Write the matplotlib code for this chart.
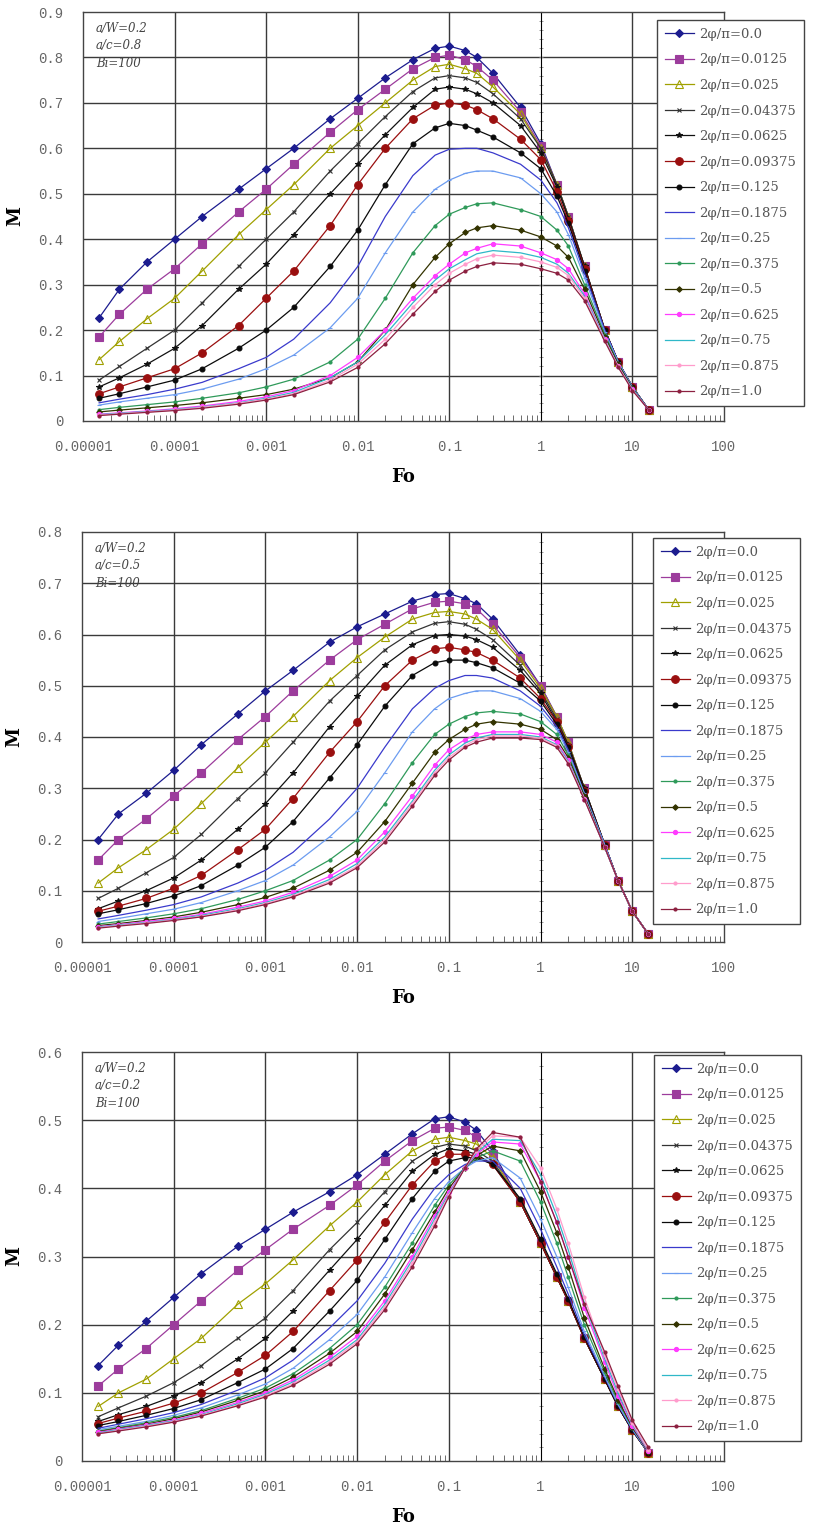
import numpy as np
import matplotlib.pyplot as plt
from matplotlib.ticker import LogLocator, NullFormatter, FixedLocator

# Fourier number sample points (shared by all three panels)
fo = [1.5e-5, 2.5e-5, 5e-5, 1e-4, 2e-4, 5e-4, 1e-3, 2e-3, 5e-3, 0.01, 0.02, 0.04,
      0.07, 0.1, 0.15, 0.2, 0.3, 0.6, 1, 1.5, 2, 3, 5, 7, 10, 15]

phi = ['0.0', '0.0125', '0.025', '0.04375', '0.0625', '0.09375', '0.125', '0.1875',
       '0.25', '0.375', '0.5', '0.625', '0.75', '0.875', '1.0']

# panel 1 : a/W=0.2, a/c=0.8, Bi=100
p1_00 = [0.227, 0.29, 0.35, 0.40, 0.45, 0.51, 0.555, 0.60, 0.665, 0.71, 0.755, 0.795, 0.82, 0.825, 0.815, 0.80, 0.765, 0.69, 0.61, 0.52, 0.45, 0.34, 0.20, 0.13, 0.075, 0.025]
p1_01 = [0.185, 0.235, 0.29, 0.335, 0.39, 0.46, 0.51, 0.565, 0.635, 0.685, 0.73, 0.775, 0.80, 0.805, 0.795, 0.78, 0.75, 0.68, 0.605, 0.52, 0.45, 0.34, 0.20, 0.13, 0.075, 0.025]
p1_02 = [0.135, 0.175, 0.225, 0.27, 0.33, 0.41, 0.465, 0.52, 0.60, 0.65, 0.70, 0.75, 0.78, 0.785, 0.775, 0.765, 0.735, 0.675, 0.60, 0.52, 0.45, 0.34, 0.20, 0.13, 0.075, 0.025]
p1_03 = [0.09, 0.12, 0.16, 0.20, 0.26, 0.34, 0.40, 0.46, 0.55, 0.61, 0.67, 0.725, 0.755, 0.76, 0.755, 0.745, 0.72, 0.665, 0.60, 0.52, 0.45, 0.34, 0.20, 0.13, 0.075, 0.025]
p1_04 = [0.075, 0.095, 0.125, 0.16, 0.21, 0.29, 0.345, 0.41, 0.50, 0.565, 0.63, 0.69, 0.73, 0.735, 0.73, 0.72, 0.70, 0.65, 0.59, 0.515, 0.445, 0.34, 0.20, 0.13, 0.075, 0.025]
p1_05 = [0.06, 0.075, 0.095, 0.115, 0.15, 0.21, 0.27, 0.33, 0.43, 0.52, 0.60, 0.665, 0.695, 0.70, 0.695, 0.685, 0.665, 0.62, 0.575, 0.505, 0.44, 0.335, 0.20, 0.13, 0.075, 0.025]
p1_06 = [0.05, 0.06, 0.075, 0.09, 0.115, 0.16, 0.20, 0.25, 0.34, 0.42, 0.52, 0.61, 0.645, 0.655, 0.65, 0.64, 0.625, 0.59, 0.555, 0.495, 0.435, 0.33, 0.20, 0.13, 0.075, 0.025]
p1_07 = [0.04, 0.048, 0.058, 0.07, 0.085, 0.115, 0.14, 0.18, 0.26, 0.34, 0.45, 0.54, 0.585, 0.598, 0.60, 0.60, 0.59, 0.565, 0.53, 0.48, 0.425, 0.325, 0.20, 0.13, 0.075, 0.025]
p1_08 = [0.035, 0.042, 0.05, 0.058, 0.07, 0.092, 0.115, 0.145, 0.205, 0.27, 0.37, 0.46, 0.51, 0.53, 0.545, 0.55, 0.55, 0.535, 0.50, 0.46, 0.41, 0.315, 0.195, 0.13, 0.075, 0.025]
p1_09 = [0.025, 0.03, 0.036, 0.042, 0.05, 0.062, 0.075, 0.092, 0.13, 0.18, 0.27, 0.37, 0.43, 0.455, 0.47, 0.478, 0.48, 0.465, 0.45, 0.42, 0.385, 0.30, 0.19, 0.125, 0.072, 0.025]
p1_10 = [0.02, 0.024, 0.029, 0.034, 0.04, 0.05, 0.058, 0.07, 0.095, 0.13, 0.2, 0.3, 0.36, 0.39, 0.415, 0.425, 0.43, 0.42, 0.405, 0.385, 0.36, 0.29, 0.185, 0.125, 0.072, 0.025]
p1_11 = [0.015, 0.018, 0.022, 0.027, 0.033, 0.043, 0.053, 0.067, 0.1, 0.14, 0.2, 0.27, 0.32, 0.345, 0.37, 0.38, 0.39, 0.385, 0.37, 0.355, 0.335, 0.28, 0.18, 0.12, 0.07, 0.025]
p1_12 = [0.014, 0.017, 0.021, 0.025, 0.031, 0.04, 0.05, 0.063, 0.095, 0.13, 0.19, 0.26, 0.31, 0.335, 0.355, 0.368, 0.375, 0.37, 0.36, 0.345, 0.325, 0.275, 0.18, 0.12, 0.07, 0.025]
p1_13 = [0.013, 0.016, 0.02, 0.024, 0.03, 0.039, 0.048, 0.06, 0.09, 0.125, 0.18, 0.25, 0.30, 0.325, 0.345, 0.357, 0.365, 0.36, 0.35, 0.338, 0.32, 0.27, 0.178, 0.12, 0.068, 0.025]
p1_14 = [0.012, 0.015, 0.019, 0.023, 0.028, 0.037, 0.046, 0.058, 0.086, 0.118, 0.17, 0.235, 0.285, 0.31, 0.33, 0.34, 0.348, 0.345, 0.335, 0.325, 0.31, 0.265, 0.175, 0.118, 0.067, 0.025]

# panel 2 : a/W=0.2, a/c=0.5, Bi=100
p2_00 = [0.20, 0.25, 0.29, 0.335, 0.385, 0.445, 0.49, 0.53, 0.585, 0.615, 0.64, 0.665, 0.678, 0.68, 0.67, 0.66, 0.63, 0.56, 0.50, 0.44, 0.39, 0.30, 0.19, 0.12, 0.06, 0.015]
p2_01 = [0.16, 0.2, 0.24, 0.285, 0.33, 0.395, 0.44, 0.49, 0.55, 0.59, 0.62, 0.65, 0.663, 0.665, 0.66, 0.65, 0.62, 0.555, 0.50, 0.44, 0.39, 0.30, 0.19, 0.12, 0.06, 0.015]
p2_02 = [0.115, 0.145, 0.18, 0.22, 0.27, 0.34, 0.39, 0.44, 0.51, 0.555, 0.595, 0.63, 0.643, 0.645, 0.64, 0.63, 0.61, 0.55, 0.495, 0.44, 0.39, 0.30, 0.19, 0.12, 0.06, 0.015]
p2_03 = [0.085, 0.105, 0.135, 0.165, 0.21, 0.28, 0.33, 0.39, 0.47, 0.52, 0.57, 0.605, 0.622, 0.625, 0.62, 0.61, 0.59, 0.54, 0.49, 0.435, 0.385, 0.30, 0.19, 0.12, 0.06, 0.015]
p2_04 = [0.065, 0.08, 0.1, 0.125, 0.16, 0.22, 0.27, 0.33, 0.42, 0.48, 0.54, 0.58, 0.598, 0.60, 0.597, 0.59, 0.575, 0.53, 0.485, 0.43, 0.385, 0.30, 0.19, 0.12, 0.06, 0.015]
p2_05 = [0.06, 0.07, 0.085, 0.105, 0.13, 0.18, 0.22, 0.28, 0.37, 0.43, 0.50, 0.55, 0.572, 0.575, 0.57, 0.565, 0.55, 0.515, 0.475, 0.43, 0.38, 0.295, 0.19, 0.12, 0.06, 0.015]
p2_06 = [0.055, 0.063, 0.075, 0.09, 0.11, 0.15, 0.185, 0.235, 0.32, 0.385, 0.46, 0.52, 0.545, 0.55, 0.55, 0.545, 0.535, 0.505, 0.47, 0.425, 0.38, 0.295, 0.19, 0.12, 0.06, 0.015]
p2_07 = [0.045, 0.052, 0.062, 0.073, 0.088, 0.115, 0.14, 0.175, 0.24, 0.30, 0.38, 0.455, 0.495, 0.51, 0.52, 0.52, 0.515, 0.49, 0.46, 0.42, 0.375, 0.29, 0.19, 0.12, 0.06, 0.015]
p2_08 = [0.04, 0.046, 0.055, 0.064, 0.077, 0.1, 0.12, 0.15, 0.205, 0.255, 0.33, 0.41, 0.455, 0.475, 0.485, 0.49, 0.49, 0.475, 0.45, 0.415, 0.37, 0.29, 0.19, 0.12, 0.06, 0.015]
p2_09 = [0.035, 0.04, 0.047, 0.055, 0.065, 0.083, 0.1, 0.12, 0.16, 0.2, 0.27, 0.35, 0.405, 0.425, 0.44, 0.447, 0.45, 0.445, 0.43, 0.405, 0.365, 0.285, 0.185, 0.12, 0.06, 0.015]
p2_10 = [0.032, 0.036, 0.042, 0.049, 0.058, 0.073, 0.087, 0.105, 0.14, 0.175, 0.235, 0.31, 0.37, 0.395, 0.415, 0.425, 0.43, 0.425, 0.415, 0.395, 0.36, 0.285, 0.185, 0.12, 0.06, 0.015]
p2_11 = [0.03, 0.034, 0.04, 0.046, 0.054, 0.068, 0.08, 0.097, 0.128, 0.16, 0.215, 0.285, 0.345, 0.375, 0.395, 0.405, 0.41, 0.41, 0.405, 0.39, 0.355, 0.28, 0.185, 0.12, 0.06, 0.015]
p2_12 = [0.029, 0.033, 0.038, 0.044, 0.052, 0.065, 0.077, 0.093, 0.122, 0.153, 0.205, 0.275, 0.335, 0.365, 0.388, 0.398, 0.405, 0.405, 0.40, 0.385, 0.353, 0.28, 0.185, 0.12, 0.06, 0.015]
p2_13 = [0.028, 0.032, 0.037, 0.043, 0.05, 0.063, 0.075, 0.09, 0.118, 0.148, 0.2, 0.27, 0.33, 0.36, 0.383, 0.395, 0.402, 0.402, 0.398, 0.383, 0.35, 0.28, 0.185, 0.12, 0.06, 0.015]
p2_14 = [0.027, 0.031, 0.036, 0.042, 0.049, 0.061, 0.073, 0.088, 0.115, 0.145, 0.195, 0.265, 0.325, 0.355, 0.38, 0.39, 0.398, 0.398, 0.395, 0.38, 0.348, 0.278, 0.185, 0.12, 0.06, 0.015]

# panel 3 : a/W=0.2, a/c=0.2, Bi=100
p3_00 = [0.14, 0.17, 0.205, 0.24, 0.275, 0.315, 0.34, 0.365, 0.395, 0.42, 0.45, 0.48, 0.502, 0.505, 0.497, 0.485, 0.455, 0.38, 0.32, 0.27, 0.235, 0.18, 0.12, 0.08, 0.045, 0.012]
p3_01 = [0.11, 0.135, 0.165, 0.2, 0.235, 0.28, 0.31, 0.34, 0.375, 0.405, 0.44, 0.47, 0.488, 0.49, 0.485, 0.475, 0.45, 0.38, 0.32, 0.27, 0.235, 0.18, 0.12, 0.08, 0.045, 0.012]
p3_02 = [0.08, 0.1, 0.12, 0.15, 0.18, 0.23, 0.26, 0.295, 0.345, 0.38, 0.42, 0.455, 0.472, 0.475, 0.47, 0.465, 0.445, 0.38, 0.32, 0.27, 0.235, 0.18, 0.12, 0.08, 0.045, 0.012]
p3_03 = [0.065, 0.078, 0.095, 0.115, 0.14, 0.18, 0.21, 0.25, 0.31, 0.35, 0.395, 0.44, 0.46, 0.465, 0.462, 0.455, 0.44, 0.38, 0.32, 0.27, 0.235, 0.18, 0.12, 0.08, 0.045, 0.012]
p3_04 = [0.058, 0.068, 0.08, 0.095, 0.115, 0.15, 0.18, 0.22, 0.28, 0.325, 0.375, 0.425, 0.45, 0.458, 0.455, 0.45, 0.435, 0.38, 0.32, 0.27, 0.235, 0.18, 0.12, 0.08, 0.045, 0.012]
p3_05 = [0.055, 0.063, 0.073, 0.085, 0.1, 0.13, 0.155, 0.19, 0.25, 0.295, 0.35, 0.405, 0.44, 0.45, 0.45, 0.447, 0.435, 0.38, 0.32, 0.27, 0.235, 0.18, 0.12, 0.08, 0.045, 0.012]
p3_06 = [0.052, 0.058, 0.067, 0.077, 0.09, 0.115, 0.135, 0.165, 0.22, 0.265, 0.325, 0.385, 0.425, 0.44, 0.445, 0.445, 0.435, 0.385, 0.325, 0.275, 0.238, 0.182, 0.12, 0.08, 0.045, 0.012]
p3_07 = [0.048, 0.054, 0.062, 0.071, 0.083, 0.104, 0.122, 0.148, 0.195, 0.235, 0.29, 0.355, 0.40, 0.42, 0.435, 0.44, 0.44, 0.40, 0.34, 0.285, 0.245, 0.185, 0.123, 0.082, 0.046, 0.012]
p3_08 = [0.046, 0.051, 0.058, 0.067, 0.078, 0.097, 0.113, 0.136, 0.178, 0.215, 0.27, 0.335, 0.385, 0.41, 0.43, 0.44, 0.445, 0.415, 0.355, 0.3, 0.255, 0.19, 0.125, 0.083, 0.047, 0.012]
p3_09 = [0.044, 0.049, 0.056, 0.064, 0.074, 0.092, 0.107, 0.128, 0.165, 0.2, 0.255, 0.32, 0.375, 0.405, 0.43, 0.445, 0.455, 0.44, 0.38, 0.32, 0.27, 0.2, 0.13, 0.087, 0.049, 0.013]
p3_10 = [0.043, 0.048, 0.054, 0.062, 0.072, 0.089, 0.103, 0.123, 0.158, 0.19, 0.245, 0.31, 0.365, 0.4, 0.43, 0.448, 0.462, 0.455, 0.395, 0.335, 0.285, 0.21, 0.135, 0.09, 0.05, 0.013]
p3_11 = [0.042, 0.047, 0.053, 0.06, 0.07, 0.086, 0.1, 0.119, 0.152, 0.183, 0.235, 0.3, 0.36, 0.395, 0.43, 0.45, 0.468, 0.465, 0.41, 0.35, 0.3, 0.225, 0.145, 0.095, 0.052, 0.014]
p3_12 = [0.041, 0.046, 0.052, 0.059, 0.068, 0.084, 0.098, 0.116, 0.148, 0.178, 0.23, 0.295, 0.355, 0.392, 0.43, 0.452, 0.472, 0.47, 0.42, 0.36, 0.31, 0.232, 0.15, 0.1, 0.054, 0.015]
p3_13 = [0.04, 0.045, 0.051, 0.058, 0.067, 0.082, 0.096, 0.113, 0.145, 0.175, 0.226, 0.29, 0.35, 0.39, 0.43, 0.455, 0.477, 0.475, 0.43, 0.37, 0.32, 0.24, 0.155, 0.105, 0.056, 0.016]
p3_14 = [0.04, 0.044, 0.05, 0.057, 0.066, 0.081, 0.094, 0.111, 0.142, 0.172, 0.222, 0.285, 0.345, 0.388, 0.43, 0.458, 0.482, 0.475, 0.41, 0.35, 0.3, 0.23, 0.16, 0.11, 0.06, 0.02]

panels = [
    ([p1_00, p1_01, p1_02, p1_03, p1_04, p1_05, p1_06, p1_07, p1_08, p1_09, p1_10, p1_11, p1_12, p1_13, p1_14],
     0.9, ['a/W=0.2', 'a/c=0.8', 'Bi=100']),
    ([p2_00, p2_01, p2_02, p2_03, p2_04, p2_05, p2_06, p2_07, p2_08, p2_09, p2_10, p2_11, p2_12, p2_13, p2_14],
     0.8, ['a/W=0.2', 'a/c=0.5', 'Bi=100']),
    ([p3_00, p3_01, p3_02, p3_03, p3_04, p3_05, p3_06, p3_07, p3_08, p3_09, p3_10, p3_11, p3_12, p3_13, p3_14],
     0.6, ['a/W=0.2', 'a/c=0.2', 'Bi=100']),
]

# (color, marker, markersize, marker face)
styles = [
    ('#1c1c8f', 'D', 4.5, None),
    ('#9c3c9c', 's', 5.5, None),
    ('#a0a000', '^', 5.5, 'none'),
    ('#333333', 'x', 3.0, None),
    ('#111111', '*', 4.0, None),
    ('#9a0f0f', 'o', 5.5, None),
    ('#0a0a0a', 'o', 3.5, None),
    ('#3a3acc', '', 0, None),
    ('#6c9cf0', '_', 3.0, None),
    ('#2f9a5a', 'o', 2.2, None),
    ('#333300', 'D', 2.8, None),
    ('#ff3cff', 'o', 3.0, None),
    ('#2fb8c8', '', 0, None),
    ('#ff9ccc', 'o', 2.2, None),
    ('#8c2040', 'o', 2.2, None),
]

plt.rcParams['font.family'] = 'DejaVu Serif'
fig = plt.figure(figsize=(8.17, 15.31), dpi=100)

ax_boxes = [(83, 12, 724, 421), (82, 532, 724, 942), (82, 1052, 724, 1461)]
leg_boxes = [(657, 20, 813, 407), (653, 538, 813, 932), (654, 1055, 813, 1448)]
W, H = 817.0, 1531.0

for (series, ymax, notes), (x0, y0, x1, y1), lb in zip(panels, ax_boxes, leg_boxes):
    ax = fig.add_axes([x0 / W, 1 - y1 / H, (x1 - x0) / W, (y1 - y0) / H])
    ax.set_xscale('log')
    ax.set_xlim(1e-5, 100)
    ax.set_ylim(0, ymax)

    # grid: decades and 0.1 steps
    for d in [1e-4, 1e-3, 1e-2, 1e-1, 10]:
        ax.axvline(d, color='#3a3a3a', lw=1.0, zorder=0)
    for yv in np.arange(0.1, ymax - 0.001, 0.1):
        ax.axhline(yv, color='#3a3a3a', lw=1.0, zorder=0)

    for (col, mk, ms, mf), m, p in zip(styles, series, phi):
        ax.plot(fo, m, color=col, marker=mk, ms=ms, lw=0.9,
                mfc=(col if mf is None else mf), mec=col, mew=0.8,
                label='2\u03c6/\u03c0=' + p)

    ax.set_xticks([1e-5, 1e-4, 1e-3, 1e-2, 0.1, 1, 10, 100])
    ax.set_xticklabels(['0.00001', '0.0001', '0.001', '0.01', '0.1', '1', '10', '100'])
    ax.xaxis.set_minor_locator(LogLocator(base=10, subs=np.arange(2, 10)))
    ax.xaxis.set_minor_formatter(NullFormatter())
    ax.tick_params(axis='x', which='both', direction='in', length=4, color='#555555',
                   labelsize=10, labelcolor='#666666', pad=14)
    ax.tick_params(axis='x', which='major', length=0)
    yt = np.round(np.arange(0, ymax + 0.001, 0.1), 1)
    ax.set_yticks(yt)
    ax.set_yticklabels(['0'] + ['%.1f' % v for v in yt[1:]])
    ax.tick_params(axis='y', length=0, labelsize=10, labelcolor='#666666', pad=14)
    for lab in ax.get_xticklabels() + ax.get_yticklabels():
        lab.set_family('Liberation Mono')

    for s in ax.spines.values():
        s.set_color('#444444')
        s.set_linewidth(1.0)

    # thin axis line crossing at Fo = 1
    sec = ax.secondary_yaxis(5 / 7)
    sec.spines['left'].set_color('#888888')
    sec.spines['left'].set_linewidth(0.6)
    sec.set_yticks(yt)
    sec.set_yticklabels([])
    sec.yaxis.set_minor_locator(FixedLocator(np.arange(0, ymax, 0.02)))
    sec.tick_params(which='both', direction='inout', length=3, color='#888888')

    ax.set_xlabel('Fo', fontsize=13, fontweight='bold', labelpad=10)
    ax.set_ylabel('M', fontsize=13, fontweight='bold', labelpad=10)

    for i, t in enumerate(notes):
        ax.text(0.02, 0.975 - i * 0.042, t, transform=ax.transAxes, fontsize=8.5,
                style='italic', color='#444444', va='top', ha='left')

    leg = fig.legend(loc='upper left', bbox_to_anchor=(lb[0] / W, 1 - lb[1] / H),
                     handles=ax.get_lines()[-15:], fontsize=9.5, frameon=True,
                     fancybox=False, edgecolor='#444444', framealpha=1,
                     handlelength=2.2, labelspacing=0.95, borderpad=0.6,
                     handletextpad=0.4, borderaxespad=0)
    leg.get_frame().set_linewidth(1.0)
    for txt in leg.get_texts():
        txt.set_color('#555555')

fig.savefig('out.png', dpi=100)
